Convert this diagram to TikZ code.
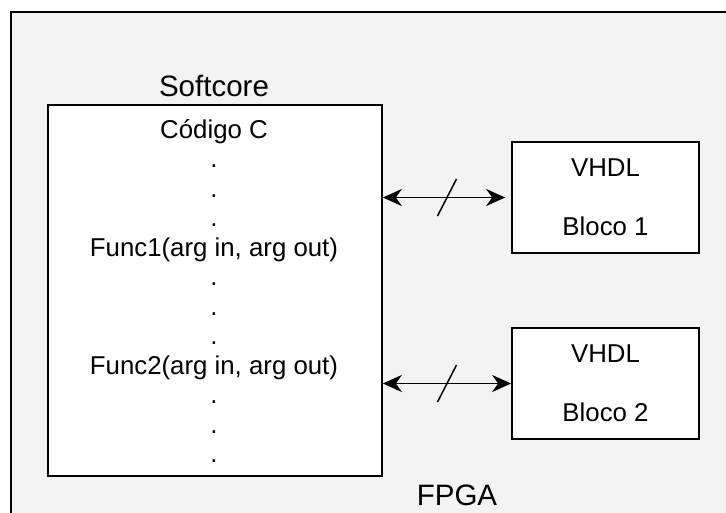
\documentclass[tikz,border=0pt]{standalone}
\usepackage{fontspec}
\setmainfont{Liberation Sans}
\usetikzlibrary{arrows.meta,calc}
\definecolor{bgfill}{RGB}{243,243,243}
\tikzset{
  body/.style={font=\fontsize{25.8}{29.5}\selectfont},
  title/.style={font=\fontsize{29.5}{34}\selectfont},
  block/.style={draw=black, line width=1.7pt, fill=white, inner sep=0pt},
  link/.style={line width=1.8pt, {Stealth[length=19pt,width=17pt,inset=6pt]}-{Stealth[length=19pt,width=17pt,inset=6pt]}},
  busmark/.style={line width=1.5pt}
}
\begin{document}
\begin{tikzpicture}[x=1pt,y=-1pt]
  \useasboundingbox (0,0) rectangle (726,512);
  \clip (0,0) rectangle (726,512);
  % FPGA area
  \draw[line width=1.6pt, fill=bgfill] (11,12) rectangle (740,530);
  \node[title, anchor=base] (fpga) at (457,505) {FPGA};

  % softcore processor with its C program
  \node[block, minimum width=334pt, minimum height=371pt] (sc) at (215,290.5) {};
  \node[title, anchor=base] (sctitle) at (214,96) {Softcore};
  \node[body, align=center, anchor=north, inner sep=0pt] (code) at (214,117.35)
    {\strut Código C\\.\\.\\.\\Func1(arg in, arg out)\\.\\.\\.\\Func2(arg in, arg out)\\.\\.\\.};

  % hardware blocks
  \node[block, body, align=center, minimum width=187pt, minimum height=111pt] (b1) at (605.5,197.5) {VHDL\\[29.5pt]Bloco 1};
  \node[block, body, align=center, minimum width=187pt, minimum height=111pt] (b2) at (605.5,383.5) {VHDL\\[29.5pt]Bloco 2};

  % buses between the softcore and the blocks
  \draw[link, shorten >=6pt] (sc.east |- b1.west) -- coordinate[midway] (m1) (b1.west);
  \draw[link] (sc.east |- b2.west) -- coordinate[midway] (m2) (b2.west);
  \draw[busmark] ($(m1)+(-9.5,18.5)$) -- ($(m1)+(9.5,-18.5)$);
  \draw[busmark] ($(m2)+(-9.5,18.5)$) -- ($(m2)+(9.5,-18.5)$);
\end{tikzpicture}
\end{document}
